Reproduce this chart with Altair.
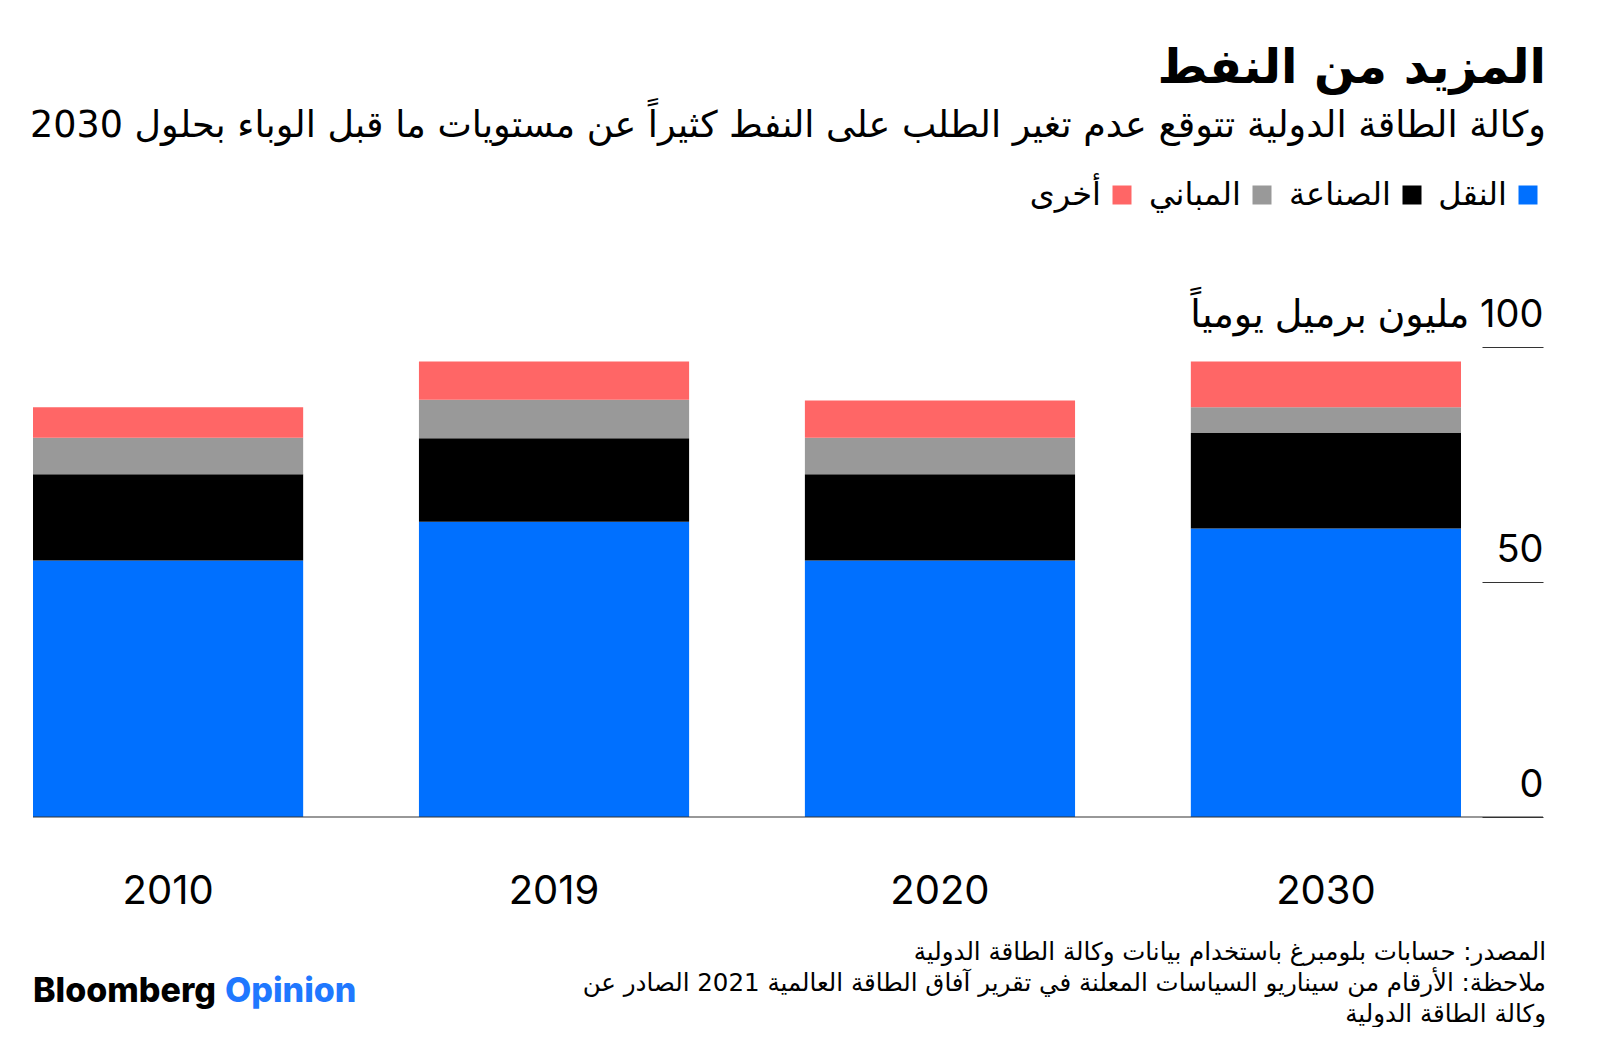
import altair as alt
import pandas as pd

# ---- data ----
years = ["2010", "2019", "2020", "2030"]
transport = [54.6, 62.8, 54.6, 61.4]   # النقل
industry = [18.3, 17.8, 18.3, 20.3]    # الصناعة
buildings = [7.8, 8.2, 7.8, 5.5]       # المباني
other = [6.5, 8.1, 7.9, 9.7]           # أخرى

series_names = ["النقل", "الصناعة", "المباني", "أخرى"]
series_values = [transport, industry, buildings, other]
legend_order = ["أخرى", "المباني", "الصناعة", "النقل"]
legend_colors = ["#FF6666", "#999999", "#000000", "#0070FF"]

y_ticks = [0, 50, 100]
y_unit = "مليون برميل يومياً"

title_text = "المزيد من النفط"
subtitle_text = "وكالة الطاقة الدولية تتوقع عدم تغير الطلب على النفط كثيراً عن مستويات ما قبل الوباء بحلول 2030"
footer_lines = [
    "المصدر: حسابات بلومبرغ باستخدام بيانات وكالة الطاقة الدولية",
    "ملاحظة: الأرقام من سيناريو السياسات المعلنة في تقرير آفاق الطاقة العالمية 2021 الصادر عن",
    "وكالة الطاقة الدولية",
]
brand = ["Bloomberg", "Opinion"]

rows = []
for si, (name, vals) in enumerate(zip(series_names, series_values)):
    for y, v in zip(years, vals):
        rows.append({"year": y, "sector": name, "value": v, "o": si})
df = pd.DataFrame(rows)

FONT = "Inter, 'DejaVu Sans', sans-serif"
AR_FONT = "'DejaVu Sans', sans-serif"
W, H = 1428, 470

bars = alt.Chart(df).mark_bar(stroke=None).encode(
    x=alt.X("year:N", sort=years,
            scale=alt.Scale(paddingInner=0.3, paddingOuter=0),
            axis=alt.Axis(title=None, domain=False, ticks=False, labelAngle=0,
                          labelFontSize=40, labelFont=FONT, labelColor="#000",
                          labelPadding=54)),
    y=alt.Y("value:Q", stack="zero",
            scale=alt.Scale(domain=[0, 100], nice=False),
            axis=alt.Axis(title=None, orient="right", offset=21, domain=False,
                          grid=False, ticks=True, tickSize=61, tickColor="#333",
                          tickWidth=1.2, values=y_ticks, labelAlign="right",
                          labelPadding=0, labelBaseline="alphabetic",
                          labelOffset=-21, labelFontSize=38, labelFont=FONT,
                          labelColor="#000", labelOverlap=False, labelLimit=600,
                          labelExpr="datum.value == 100 ? '" + y_unit + " \u200e100' : datum.label")),
    color=alt.Color("sector:N",
                    scale=alt.Scale(domain=legend_order, range=legend_colors),
                    legend=alt.Legend(orient="none", legendX=1073, legendY=-168,
                                      direction="horizontal", title=None,
                                      symbolType="square", symbolSize=361,
                                      symbolStrokeWidth=0, symbolOpacity=1,
                                      labelFontSize=32, labelFont=AR_FONT,
                                      labelColor="#000", labelAlign="right",
                                      labelOffset={"expr": "-37"}, columnPadding=16,
                                      labelLimit=400)),
    order=alt.Order("o:Q", sort="ascending"),
)

base_rule = alt.Chart(pd.DataFrame({"v": [0]})).mark_rule(
    color="#333", strokeWidth=1.2
).encode(y=alt.Y("v:Q"), x=alt.value(0), x2=alt.value(1510))

footer = alt.Chart(pd.DataFrame({"t": [footer_lines]})).mark_text(
    align="right", baseline="middle", font=AR_FONT, fontSize=24.5,
    lineHeight=31, color="#000"
).encode(text="t", x=alt.value(1513), y=alt.value(606))

brand1 = alt.Chart(pd.DataFrame({"t": [brand[0]]})).mark_text(
    align="left", baseline="middle", font=FONT, fontSize=34,
    fontWeight=800, color="#000"
).encode(text="t", x=alt.value(0), y=alt.value(645))

brand2 = alt.Chart(pd.DataFrame({"t": [brand[1]]})).mark_text(
    align="left", baseline="middle", font=FONT, fontSize=34,
    fontWeight=800, color="#1F78FF"
).encode(text="t", x=alt.value(192), y=alt.value(645))

chart = alt.layer(bars, base_rule, footer, brand1, brand2).properties(
    width=W, height=H,
    title=alt.TitleParams(text=title_text, subtitle=subtitle_text,
                          anchor="end", frame="group", orient="top",
                          offset=35, dx=85, font=AR_FONT, fontSize=48,
                          fontWeight="bold", color="#000",
                          subtitleFont=AR_FONT, subtitleFontSize=36.5,
                          subtitleColor="#000", subtitlePadding=15),
    autosize=alt.AutoSizeParams(type="none"),
    padding={"left": 25, "top": 339, "right": 120, "bottom": 210},
).configure(background="white", view=alt.ViewConfig(stroke=None, strokeWidth=0))

chart.save("out.html", embed_options={"renderer": "svg", "actions": False})
